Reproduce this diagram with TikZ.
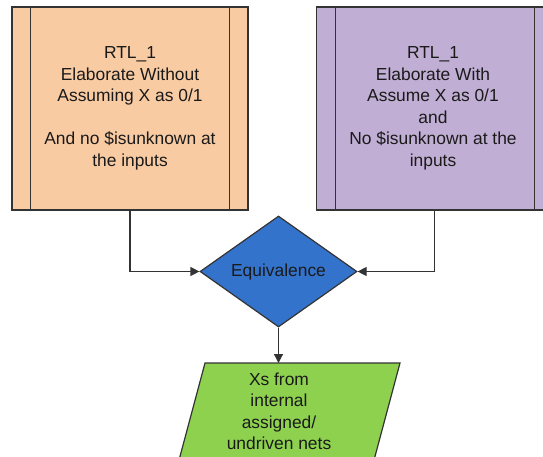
\documentclass[tikz,border=0pt]{standalone}
\usepackage{fontspec}
\setmainfont{Liberation Sans}
\usetikzlibrary{shapes.geometric,arrows.meta}
\definecolor{peach}{HTML}{F9CBA2}
\definecolor{lilac}{HTML}{C1AED4}
\definecolor{eqblue}{HTML}{3473CB}
\definecolor{pgreen}{HTML}{8ED14F}
\definecolor{edge}{HTML}{333333}
\definecolor{txt}{HTML}{1A1A1A}
\tikzset{
  lbl/.style={font=\fontsize{17.4}{21.5}\selectfont, text=txt, align=center},
  procbox/.style={draw=edge, line width=1.2pt, minimum width=236pt, minimum height=203pt, inner sep=0pt},
  conn/.style={draw=edge, line width=1.2pt, -{Triangle[length=9pt,width=9pt]}},
  plain/.style={draw=edge, line width=1.2pt}
}
\begin{document}
\begin{tikzpicture}[x=1pt,y=-1pt]
\useasboundingbox[fill=white] (0,0) rectangle (543,456);
\begin{scope}
\clip (0,0) rectangle (543,456);
% left box
\node[procbox, fill=peach] (lb) at (130,108.5) {};
\draw[plain] ([xshift=19pt]lb.north west) -- ([xshift=19pt]lb.south west);
\draw[plain] ([xshift=-19pt]lb.north east) -- ([xshift=-19pt]lb.south east);
\node[lbl] (lt) at (130,108.5) {RTL\_1\\Elaborate Without\\Assuming X as 0/1\\\mbox{}\\And no \$isunknown at\\the inputs};
% right box
\node[procbox, fill=lilac] (rb) at (434.7,108.5) {};
\draw[plain] ([xshift=19pt]rb.north west) -- ([xshift=19pt]rb.south west);
\draw[plain] ([xshift=-19pt]rb.north east) -- ([xshift=-19pt]rb.south east);
\node[lbl] (rt) at (433,108.5) {RTL\_1\\Elaborate With\\Assume X as 0/1\\and\\No \$isunknown at the\\inputs};
% diamond
\node[diamond, draw=edge, line width=1.2pt, fill=eqblue, minimum width=157pt, minimum height=93pt, inner sep=0pt, lbl] (eq) at (278.5,271.5) {Equivalence};
% parallelogram
\coordinate (p1) at (205,363);
\coordinate (p2) at (400,363);
\coordinate (p3) at (373.5,462);
\coordinate (p4) at (178.5,462);
\draw[plain, fill=pgreen] (p1) -- (p2) -- (p3) -- (p4) -- cycle;
\coordinate (pgtop) at (278.5,363);
\node[lbl] (pg) at (279,411.5) {Xs from\\internal\\assigned/\\undriven nets};
% connectors
\draw[conn] (lb.south) |- (eq.west);
\draw[conn] (rb.south) |- (eq.east);
\draw[conn] (eq.south) -- (pgtop);
\end{scope}
\end{tikzpicture}
\end{document}
